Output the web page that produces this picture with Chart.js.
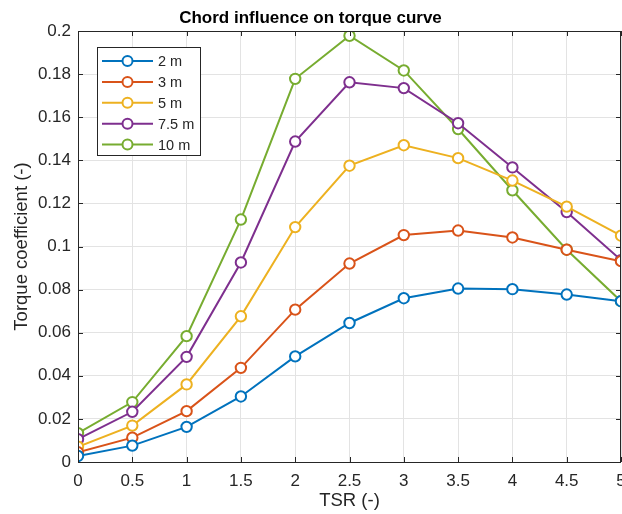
<!DOCTYPE html>
<html>
<head>
<meta charset="utf-8">
<script src="https://cdn.jsdelivr.net/npm/chart.js@4"></script>
<style>
  html, body { margin: 0; padding: 0; background: #fff; overflow: hidden; }
  #wrap { width: 640px; height: 514px; position: relative; }
</style>
</head>
<body>
<div id="wrap"><canvas id="chart"></canvas></div>
<script>
const tsr = [0, 0.5, 1, 1.5, 2, 2.5, 3, 3.5, 4, 4.5, 5];
const labels = ['2 m', '3 m', '5 m', '7.5 m', '10 m'];
const colors = ['#0072BD', '#D95319', '#EDB120', '#7E2F8E', '#77AC30'];
const cq2 = [0.0028, 0.0076, 0.0163, 0.0304, 0.0490, 0.0645, 0.0760, 0.0805, 0.0802, 0.0777, 0.0746];
const cq3 = [0.0045, 0.0113, 0.0236, 0.0437, 0.0707, 0.0921, 0.1053, 0.1074, 0.1042, 0.0985, 0.0932];
const cq5 = [0.0071, 0.0169, 0.0360, 0.0676, 0.1090, 0.1375, 0.1470, 0.1410, 0.1306, 0.1185, 0.1050];
const cq75 = [0.0106, 0.0233, 0.0488, 0.0926, 0.1487, 0.1762, 0.1735, 0.1572, 0.1367, 0.1160, 0.0937];
const cq10 = [0.0134, 0.0278, 0.0584, 0.1125, 0.1778, 0.1978, 0.1817, 0.1545, 0.1261, 0.0985, 0.0746];
const yTicks = [0, 0.02, 0.04, 0.06, 0.08, 0.1, 0.12, 0.14, 0.16, 0.18, 0.2];

const series = [cq2, cq3, cq5, cq75, cq10];
const FONT = '"Liberation Sans", Arial, Helvetica, sans-serif';
const AX = '#262626';

const datasets = series.map((s, i) => ({
    label: labels[i],
    data: s.map((v, j) => ({ x: tsr[j], y: v })),
    borderColor: colors[i],
    backgroundColor: colors[i],
    pointBorderColor: colors[i],
    pointBackgroundColor: '#ffffff',
    borderWidth: 2,
    pointRadius: 5.2,
    pointBorderWidth: 2,
    tension: 0
}));

// box, inward ticks and legend in the MATLAB style
const matlabAxes = {
    id: 'matlabAxes',
    afterDatasetsDraw(chart) {
        const { ctx, chartArea: a, scales } = chart;
        ctx.save();
        ctx.strokeStyle = AX;
        ctx.lineWidth = 1;
        const tl = 5;
        ctx.beginPath();
        tsr.forEach(v => {
            const x = Math.round(scales.x.getPixelForValue(v)) + 0.5;
            ctx.moveTo(x, a.bottom); ctx.lineTo(x, a.bottom - tl);
            ctx.moveTo(x, a.top); ctx.lineTo(x, a.top + tl);
        });
        yTicks.forEach(v => {
            const y = Math.round(scales.y.getPixelForValue(v)) + 0.5;
            ctx.moveTo(a.left, y); ctx.lineTo(a.left + tl, y);
            ctx.moveTo(a.right, y); ctx.lineTo(a.right - tl, y);
        });
        ctx.stroke();
        ctx.strokeRect(Math.round(a.left) + 0.5, Math.round(a.top) + 0.5,
            Math.round(a.right - a.left) - 1, Math.round(a.bottom - a.top));

        // legend
        const lx = 97.5, ly = 47.5, lw = 103, lh = 108;
        ctx.fillStyle = '#fff';
        ctx.fillRect(lx, ly, lw, lh);
        ctx.strokeStyle = AX;
        ctx.lineWidth = 1;
        ctx.strokeRect(lx, ly, lw, lh);
        ctx.font = '14.5px ' + FONT;
        ctx.textBaseline = 'middle';
        labels.forEach((t, i) => {
            const y = 61 + i * 20.9;
            ctx.strokeStyle = colors[i];
            ctx.lineWidth = 2;
            ctx.beginPath();
            ctx.moveTo(102, y); ctx.lineTo(153, y);
            ctx.stroke();
            ctx.beginPath();
            ctx.arc(127.5, y, 5, 0, Math.PI * 2);
            ctx.fillStyle = '#fff';
            ctx.fill();
            ctx.stroke();
            ctx.fillStyle = AX;
            ctx.fillText(t, 158, y + 1);
        });
        ctx.restore();
    }
};

new Chart(document.getElementById('chart'), {
    type: 'line',
    data: { datasets },
    plugins: [matlabAxes],
    options: {
        responsive: true,
        maintainAspectRatio: false,
        animation: false,
        layout: { padding: { left: 0, right: 19, top: 0, bottom: 0 } },
        plugins: {
            legend: { display: false },
            tooltip: { enabled: false },
            title: {
                display: true,
                text: 'Chord influence on torque curve',
                color: '#000',
                font: { family: FONT, size: 17, weight: 'bold' },
                padding: { top: 8, bottom: 2.6 }
            }
        },
        scales: {
            x: {
                type: 'linear',
                min: 0, max: 5,
                afterBuildTicks: s => { s.ticks = tsr.map(v => ({ value: v })); },
                afterFit: s => { s.height = 52; s.paddingLeft = 0; s.paddingRight = 0; },
                grid: { color: '#e3e3e3', drawTicks: false },
                border: { display: false },
                ticks: { color: AX, font: { family: FONT, size: 17 }, padding: 9, maxRotation: 0,
                    callback: v => String(v) },
                title: { display: true, text: 'TSR (-)', color: AX,
                    font: { family: FONT, size: 18.5 }, padding: { top: 0, bottom: 2 } }
            },
            y: {
                min: 0, max: 0.2,
                afterBuildTicks: s => { s.ticks = yTicks.map(v => ({ value: v })); },
                afterFit: s => { s.width = 78; s.paddingTop = 0; s.paddingBottom = 0; },
                grid: { color: '#e3e3e3', drawTicks: false },
                border: { display: false },
                ticks: { color: AX, font: { family: FONT, size: 17 }, padding: 7,
                    callback: v => String(+v.toFixed(2)) },
                title: { display: true, text: 'Torque coefficient (-)', color: AX,
                    font: { family: FONT, size: 18.5 }, padding: { top: 11, bottom: 0 } }
            }
        }
    }
});
</script>
</body>
</html>
